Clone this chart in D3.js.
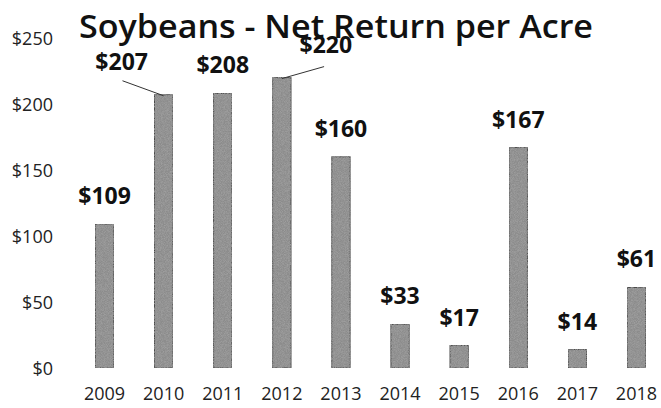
<!DOCTYPE html>
<html>
<head>
<meta charset="utf-8">
<script src="https://cdn.jsdelivr.net/npm/d3@7"></script>
<style>
  html, body { margin: 0; padding: 0; background: #fff; }
  svg { display: block; }
</style>
</head>
<body>
<svg id="chart" width="661" height="408"></svg>
<script>
// Soybean net return per acre, 2009–2018
const years = ["2009", "2010", "2011", "2012", "2013", "2014", "2015", "2016", "2017", "2018"];
const netReturn = [109, 207, 208, 220, 160, 33, 17, 167, 14, 61];
const yTicks = [0, 50, 100, 150, 200, 250];
const title = "Soybeans - Net Return per Acre";

// labels that sit off to the side with a leader line: [dx, dy] from the default spot
const labelOffsets = { "2010": [-42, -5], "2012": [44, -5] };

const svg = d3.select("#chart");
const baseY = 368;

const x = d3.scaleBand().domain(years).range([75, 666]).paddingInner(0.69).paddingOuter(0.345);
const y = d3.scaleLinear().domain([0, 250]).range([baseY, 38]);

const data = years.map((yr, i) => ({ year: yr, value: netReturn[i] }));

// grain texture for the bars
const defs = svg.append("defs");
const f = defs.append("filter").attr("id", "grain").attr("x", 0).attr("y", 0).attr("width", 1).attr("height", 1);
f.append("feTurbulence").attr("type", "fractalNoise").attr("baseFrequency", 1.3).attr("numOctaves", 1).attr("seed", 3).attr("result", "noise");
f.append("feColorMatrix").attr("in", "noise").attr("type", "matrix")
  .attr("values", "0 0 0 0 0.35  0 0 0 0 0.35  0 0 0 0 0.35  0 0 0 -2.2 1.45").attr("result", "speck");
f.append("feComposite").attr("in", "speck").attr("in2", "SourceGraphic").attr("operator", "in").attr("result", "specks");
f.append("feMerge").call(m => { m.append("feMergeNode").attr("in", "SourceGraphic"); m.append("feMergeNode").attr("in", "specks"); });

// y axis labels
const yAxis = d3.axisLeft(y).tickValues(yTicks).tickFormat(d => "$" + d).tickSize(0).tickPadding(0);
const gy = svg.append("g").attr("transform", "translate(53,0)").call(yAxis);
gy.select(".domain").remove();
gy.selectAll("text")
  .attr("font-family", "'Open Sans', sans-serif")
  .attr("font-size", 18)
  .attr("fill", "#222")
  .attr("dy", "0.36em");

// x axis labels
const xAxis = d3.axisBottom(x).tickSize(0).tickPadding(0);
const gx = svg.append("g").attr("transform", "translate(0,394)").call(xAxis);
gx.select(".domain").remove();
gx.selectAll("text")
  .attr("font-family", "'Open Sans', sans-serif")
  .attr("font-size", 18)
  .attr("fill", "#222")
  .attr("dy", "0.36em");

// bars
svg.append("g").selectAll("rect").data(data).join("rect")
  .attr("x", d => x(d.year))
  .attr("y", d => y(d.value))
  .attr("width", x.bandwidth())
  .attr("height", d => y(0) - y(d.value))
  .attr("fill", "#8c8c8c")
  .attr("stroke", "#4a4a4a")
  .attr("stroke-width", 1)
  .attr("filter", "url(#grain)");

// leader lines for offset labels
svg.append("g").selectAll("line").data(data.filter(d => labelOffsets[d.year])).join("line")
  .attr("x1", d => x(d.year) + x.bandwidth() / 2)
  .attr("y1", d => y(d.value) + 1)
  .attr("x2", d => x(d.year) + x.bandwidth() / 2 + labelOffsets[d.year][0] * (d.year === "2010" ? 0.98 : 0.96))
  .attr("y2", d => y(d.value) - (d.year === "2010" ? 14 : 11))
  .attr("stroke", "#333")
  .attr("stroke-width", 1);

// value labels
svg.append("g").selectAll("text").data(data).join("text")
  .attr("x", d => x(d.year) + x.bandwidth() / 2 + (labelOffsets[d.year] ? labelOffsets[d.year][0] : 0))
  .attr("y", d => y(d.value) - 20 + (labelOffsets[d.year] ? labelOffsets[d.year][1] : 0))
  .attr("text-anchor", "middle")
  .attr("font-family", "'Open Sans', sans-serif")
  .attr("font-weight", 700)
  .attr("font-size", 23)
  .attr("fill", "#111")
  .text(d => "$" + d.value);

// title
svg.append("text")
  .attr("x", 79)
  .attr("y", 38)
  .attr("font-family", "'Open Sans', sans-serif")
  .attr("font-weight", 600)
  .attr("font-size", 32)
  .attr("fill", "#111")
  .attr("textLength", 514)
  .attr("lengthAdjust", "spacingAndGlyphs")
  .text(title);
</script>
</body>
</html>
